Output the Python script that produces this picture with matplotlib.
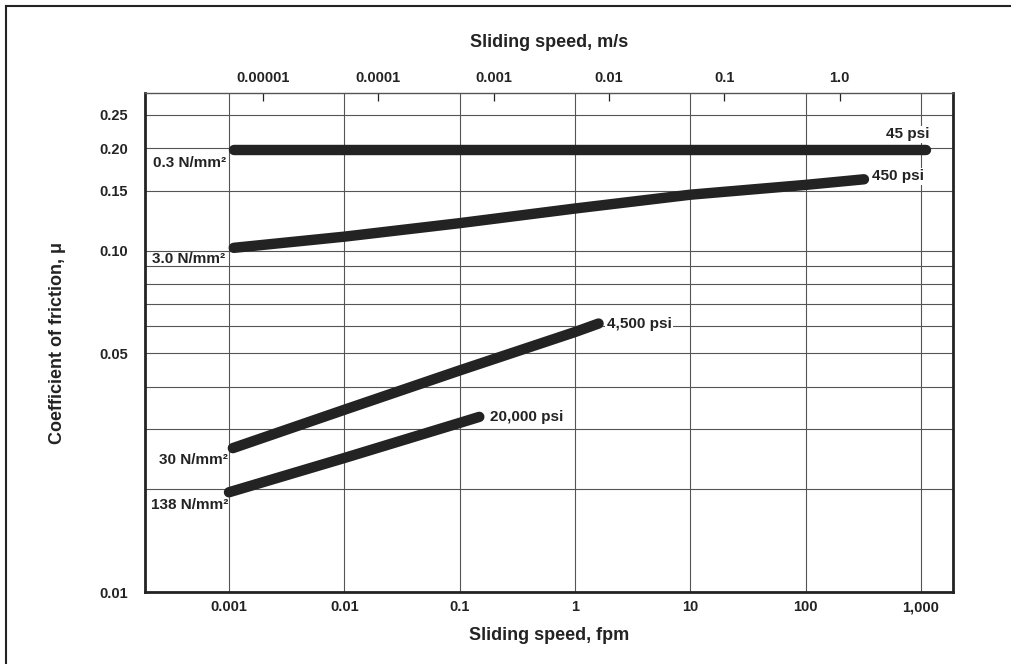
import numpy as np
import matplotlib
matplotlib.use('Agg')
import matplotlib.pyplot as plt
from matplotlib.ticker import FixedLocator, FixedFormatter, NullLocator
from matplotlib.lines import Line2D

plt.rcParams['font.family'] = ['Liberation Sans', 'DejaVu Sans']
plt.rcParams['font.weight'] = 'bold'
plt.rcParams['axes.labelweight'] = 'bold'

ink = '#232323'
grid_c = '#555555'

# Friction curves: speed in fpm, coefficient of friction
fpm_45 = [0.0011, 1100.]
mu_45 = [0.197, 0.197]

fpm_450 = [0.0011, 0.01, 0.1, 1., 10., 100., 320.]
mu_450 = [0.102, 0.110, 0.1205, 0.133, 0.146, 0.156, 0.162]

fpm_4500 = [0.00108, 0.01, 0.1, 1., 1.6]
mu_4500 = [0.0264, 0.0342, 0.0446, 0.0578, 0.0612]

fpm_20000 = [0.001, 0.01, 0.1, 0.148]
mu_20000 = [0.0196, 0.0247, 0.0313, 0.0326]

psi_labels = ['45 psi', '450 psi', '4,500 psi', '20,000 psi']
nmm_labels = ['0.3 N/mm\u00b2', '3.0 N/mm\u00b2', '30 N/mm\u00b2', '138 N/mm\u00b2']

# axis ticks
x_ticks = [0.001, 0.01, 0.1, 1., 10., 100., 1000.]
x_ticklabels = ['0.001', '0.01', '0.1', '1', '10', '100', '1,000']
ms_ticks = [1e-5, 1e-4, 1e-3, 1e-2, 1e-1, 1.]
ms_ticklabels = ['0.00001', '0.0001', '0.001', '0.01', '0.1', '1.0']
y_ticks = [0.01, 0.02, 0.03, 0.04, 0.05, 0.06, 0.07, 0.08, 0.09,
           0.10, 0.15, 0.20, 0.25]
y_ticklabels = ['0.01', '', '', '', '0.05', '', '', '', '',
                '0.10', '0.15', '0.20', '0.25']

fpm_to_ms = 0.00508

fig = plt.figure(figsize=(10.11, 6.64), dpi=100)
ax = fig.add_axes([145/1011., 1-592/664., (953-145)/1011., (592-93)/664.])
ax.set_xscale('log') ; ax.set_yscale('log')
ax.set_xlim(1.87e-4, 1893.) ; ax.set_ylim(0.01, 0.29)

ax.xaxis.set_major_locator(FixedLocator(x_ticks))
ax.xaxis.set_major_formatter(FixedFormatter(x_ticklabels))
ax.xaxis.set_minor_locator(NullLocator())
ax.yaxis.set_major_locator(FixedLocator(y_ticks))
ax.yaxis.set_major_formatter(FixedFormatter(y_ticklabels))
ax.yaxis.set_minor_locator(NullLocator())
ax.tick_params(axis='both', length=0, labelsize=10.5, colors=ink)
ax.tick_params(axis='x', pad=6)
ax.tick_params(axis='y', pad=12)
ax.grid(True, color=grid_c, lw=0.8)
ax.set_axisbelow(True)

for side in ['left', 'right', 'bottom']:
    ax.spines[side].set_linewidth(2.)
    ax.spines[side].set_color(ink)
ax.spines['top'].set_linewidth(1.)
ax.spines['top'].set_color(grid_c)

# top axis in m/s
axt = ax.secondary_xaxis('top', functions=(lambda x: x*fpm_to_ms,
                                           lambda x: x/fpm_to_ms))
axt.xaxis.set_major_locator(FixedLocator(ms_ticks))
axt.xaxis.set_major_formatter(FixedFormatter(ms_ticklabels))
axt.xaxis.set_minor_locator(NullLocator())
axt.tick_params(axis='x', direction='in', length=6, width=0.9,
                color=ink, labelsize=10.5, labelcolor=ink, pad=6)
axt.spines['top'].set_visible(False)
axt.set_xlabel('Sliding speed, m/s', fontsize=13, color=ink, labelpad=17)

ax.set_xlabel('Sliding speed, fpm', fontsize=13, color=ink, labelpad=9)
ax.set_ylabel('Coefficient of friction, \u03bc', fontsize=13, color=ink,
              labelpad=24)

curves = [(fpm_45, mu_45), (fpm_450, mu_450),
          (fpm_4500, mu_4500), (fpm_20000, mu_20000)]
for xx, yy in curves:
    ax.plot(xx, yy, color=ink, lw=7.5, solid_capstyle='round',
            solid_joinstyle='round', zorder=3)

# labels at the ends of each curve
end_off = [(4, 16, 'right'), (8, 3, 'left'), (8, 0, 'left'), (11, 0, 'left')]
start_off = [(-8, -13), (-9, -11), (-5, -12), (-1, -13)]
for ii, (xx, yy) in enumerate(curves):
    dx, dy, ha = end_off[ii]
    ax.annotate(psi_labels[ii], xy=(xx[-1], yy[-1]), xytext=(dx, dy),
                textcoords='offset pixels', ha=ha, va='center',
                fontsize=11, color=ink, zorder=4,
                bbox=dict(boxstyle='square,pad=0.1', fc='white', ec='none'))
    dx, dy = start_off[ii]
    ax.annotate(nmm_labels[ii], xy=(xx[0], yy[0]), xytext=(dx, dy),
                textcoords='offset pixels', ha='right', va='center',
                fontsize=11, color=ink, zorder=4)

# frame around the figure
fig.add_artist(Line2D([6/1011., 6/1011.], [0., 1-6/664.], color=ink, lw=1.5))
fig.add_artist(Line2D([6/1011., 1.], [1-6/664., 1-6/664.], color=ink, lw=1.5))

fig.savefig('out.png', dpi=100)
